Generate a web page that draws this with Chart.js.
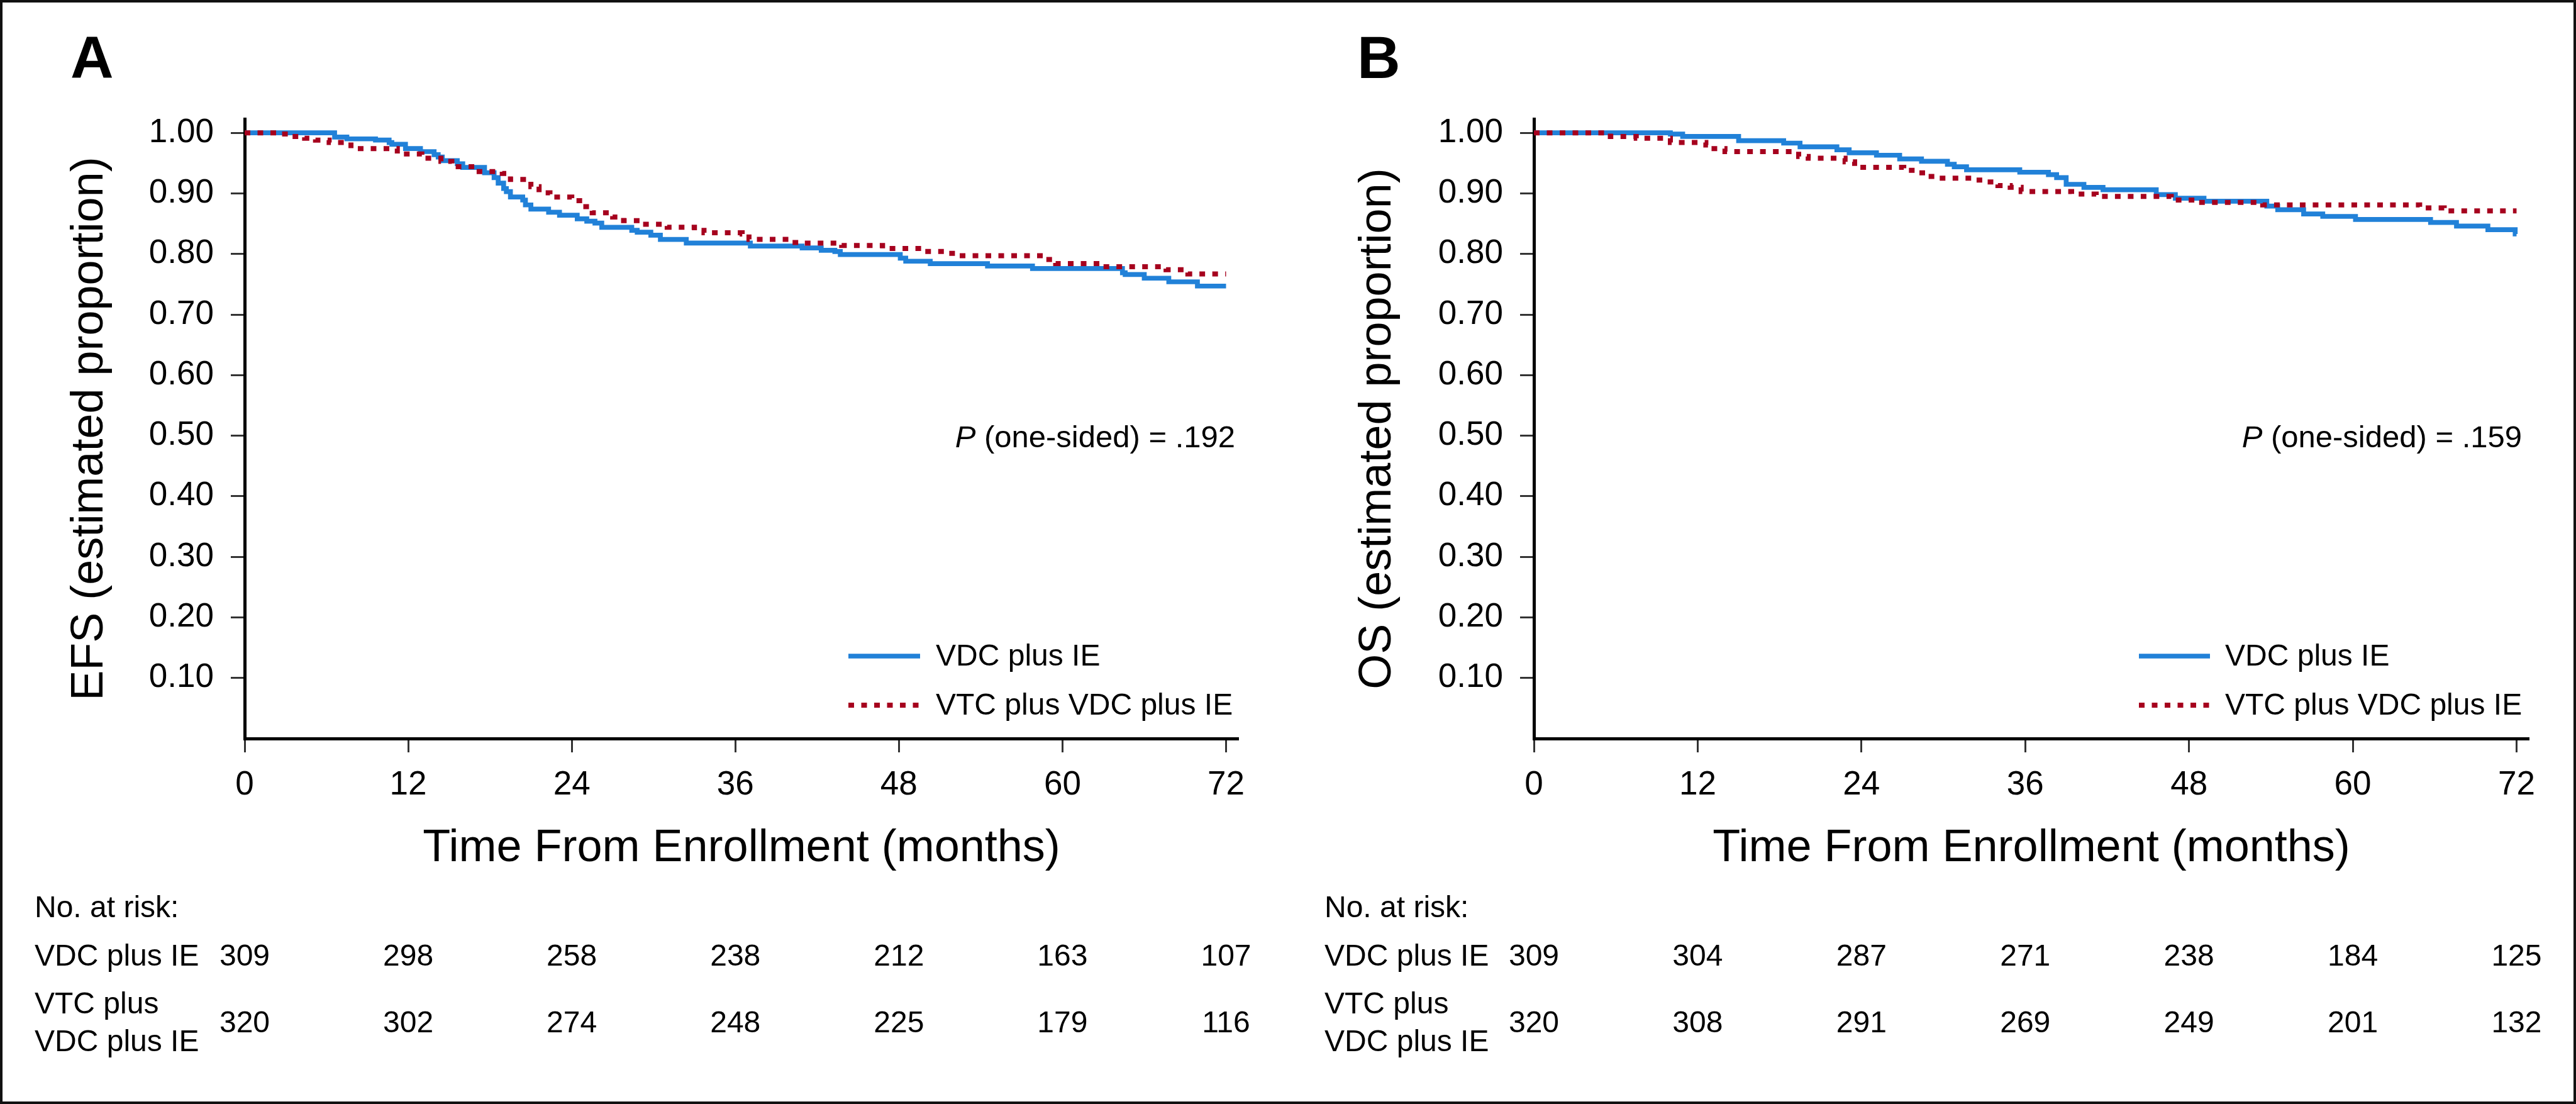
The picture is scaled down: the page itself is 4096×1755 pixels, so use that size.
<!DOCTYPE html>
<html><head><meta charset="utf-8">
<script src="https://cdn.jsdelivr.net/npm/chart.js@4.4.1/dist/chart.umd.min.js"></script>
<style>
html,body{margin:0;padding:0;background:#fff;}
#wrap{position:relative;width:4096px;height:1755px;overflow:hidden;background:#fff;}
.panel{position:absolute;top:0;width:2048px;height:1755px;}
#frame{position:absolute;left:0;top:0;width:4096px;height:1755px;box-sizing:border-box;border:4px solid #111;pointer-events:none;}
</style></head><body>
<div id="wrap">
<div class="panel" style="left:0"><canvas id="cA" width="2048" height="1755"></canvas></div>
<div class="panel" style="left:2048px"><canvas id="cB" width="2048" height="1755"></canvas></div>
<div id="frame"></div>
</div>
<script>
// ---------- data ----------
const xTicks = [0, 12, 24, 36, 48, 60, 72];
const yTicks = [0.1, 0.2, 0.3, 0.4, 0.5, 0.6, 0.7, 0.8, 0.9, 1.0];
const seriesLabels = ['VDC plus IE', 'VTC plus VDC plus IE'];

// Panel A: EFS
const efsVdcMonths = [0,6.6,7.5,9.6,10.6,10.8,11.8,12.9,13.9,14.2,14.5,15.6,16.0,17.6,18.3,18.6,19.0,19.2,19.5,20.4,20.6,21.0,22.3,23.1,24.4,25.1,25.7,26.2,28.4,28.8,29.8,30.5,32.4,37.1,40.9,42.3,43.3,43.7,48.1,48.5,50.3,54.5,57.8,64.4,64.6,66.0,67.8,69.9,72.0];
const efsVdcSurv   = [1.000,0.993,0.990,0.988,0.984,0.981,0.974,0.969,0.964,0.960,0.954,0.949,0.943,0.934,0.926,0.917,0.908,0.903,0.894,0.889,0.881,0.874,0.869,0.864,0.858,0.854,0.851,0.844,0.839,0.836,0.831,0.824,0.818,0.813,0.810,0.806,0.804,0.799,0.793,0.788,0.784,0.780,0.776,0.769,0.766,0.760,0.754,0.747,0.747];
const efsVtcMonths = [0,2.5,3.4,4.4,5.2,6.2,7.8,11.2,13.0,14.4,15.2,17.0,18.9,19.5,21.0,21.6,22.4,24.0,24.8,25.5,27.0,27.8,29.2,31.0,33.0,33.7,36.5,37.0,40.0,40.8,43.8,46.8,49.8,51.5,52.3,58.8,59.5,63.0,67.6,69.2,72.0];
const efsVtcSurv   = [1.000,0.998,0.994,0.991,0.988,0.984,0.974,0.965,0.958,0.953,0.944,0.936,0.933,0.923,0.911,0.901,0.894,0.888,0.878,0.868,0.861,0.855,0.849,0.844,0.839,0.835,0.833,0.824,0.819,0.818,0.814,0.809,0.804,0.801,0.797,0.791,0.784,0.779,0.774,0.767,0.767];
const efsRiskVdc = [309, 298, 258, 238, 212, 163, 107];
const efsRiskVtc = [320, 302, 274, 248, 225, 179, 116];

// Panel B: OS
const osVdcMonths = [0,10.0,10.9,15.0,18.3,19.5,22.2,23.1,25.1,26.8,28.4,30.3,30.8,31.7,35.6,37.7,38.3,39.0,40.3,41.7,45.6,47.0,49.1,53.7,54.5,56.4,57.8,60.2,65.7,67.6,69.9,71.9,72.0];
const osVdcSurv   = [1.000,0.998,0.994,0.987,0.983,0.977,0.972,0.967,0.963,0.957,0.953,0.948,0.944,0.939,0.935,0.931,0.926,0.915,0.910,0.906,0.898,0.892,0.887,0.879,0.873,0.866,0.862,0.857,0.852,0.846,0.840,0.833,0.833];
const osVtcMonths = [0,5.6,7.5,10.0,12.6,13.2,14.0,19.4,20.1,22.8,23.5,27.1,27.9,28.7,29.5,32.2,33.1,34.0,34.9,35.7,39.4,41.2,46.7,48.6,53.4,64.9,66.7,72.0];
const osVtcSurv   = [1.000,0.994,0.991,0.984,0.980,0.974,0.969,0.961,0.958,0.952,0.943,0.938,0.934,0.928,0.925,0.922,0.919,0.913,0.910,0.903,0.899,0.895,0.889,0.885,0.881,0.876,0.871,0.871];
const osRiskVdc = [309, 304, 287, 271, 238, 184, 125];
const osRiskVtc = [320, 308, 291, 269, 249, 201, 132];

// ---------- styling ----------
const FONT = "'Liberation Sans', Arial, Helvetica, sans-serif";
const BLUE = '#2181d8';
const RED = '#a6001e';
Chart.defaults.font.family = FONT;
Chart.defaults.color = '#000';

const annot = {
  id: 'annot',
  afterDraw(chart) {
    const o = chart.options.plugins.annot;
    const ctx = chart.ctx;
    const xs = chart.scales.x;
    ctx.save();
    ctx.fillStyle = '#000';
    ctx.textBaseline = 'alphabetic';
    // panel letter
    ctx.textAlign = 'left';
    ctx.font = 'bold 95px ' + FONT;
    ctx.fillText(o.letter, o.letterX, 124);
    // p value
    const rest = ' (one-sided) = ' + o.p;
    ctx.font = '49px ' + FONT;
    const wRest = ctx.measureText(rest).width;
    ctx.fillText(rest, o.pRight - wRest, 711);
    ctx.font = 'italic 49px ' + FONT;
    const wP = ctx.measureText('P').width;
    ctx.fillText('P', o.pRight - wRest - wP, 711);
    // legend
    const legendOrder = [0, 1];
    const rowsY = [1043, 1121];
    ctx.font = '48px ' + FONT;
    legendOrder.forEach((di, k) => {
      const ds = chart.data.datasets[di];
      ctx.save();
      ctx.strokeStyle = ds.borderColor;
      ctx.lineWidth = ds.borderWidth;
      ctx.setLineDash(ds.borderDash || []);
      ctx.lineCap = 'butt';
      ctx.beginPath();
      ctx.moveTo(o.legLine0, rowsY[k]);
      ctx.lineTo(o.legLine1, rowsY[k]);
      ctx.stroke();
      ctx.restore();
      ctx.fillText(ds.label, o.legText, rowsY[k] + 15);
    });
    // number at risk table
    ctx.font = '48px ' + FONT;
    ctx.textAlign = 'left';
    ctx.fillText('No. at risk:', o.riskX, 1458);
    ctx.fillText(seriesLabels[0], o.riskX, 1535);
    ctx.fillText('VTC plus', o.riskX, 1611);
    ctx.fillText('VDC plus IE', o.riskX, 1671);
    ctx.textAlign = 'center';
    xTicks.forEach((t, i) => {
      const px = xs.getPixelForValue(t);
      ctx.fillText(String(o.risk1[i]), px, 1535);
      ctx.fillText(String(o.risk2[i]), px, 1641);
    });
    ctx.restore();
  }
};

function toPts(ms, ss) { return ms.map((m, i) => ({x: m, y: ss[i]})); }

function makeChart(id, o) {
  const tickGrid = {drawOnChartArea: false, drawTicks: true, tickLength: 22, tickWidth: 3, tickColor: '#333', color: '#333'};
  const border = {display: true, color: '#000', width: 5};
  return new Chart(document.getElementById(id), {
    type: 'line',
    data: {
      datasets: [
        {label: seriesLabels[0], data: toPts(o.m1, o.s1), borderColor: BLUE, borderWidth: 7.7,
         stepped: 'before', pointRadius: 0, fill: false, order: 1, borderCapStyle: 'butt'},
        {label: seriesLabels[1], data: toPts(o.m2, o.s2), borderColor: RED, borderWidth: 8,
         borderDash: [9, 11.5], stepped: 'before', pointRadius: 0, fill: false, order: 0, borderCapStyle: 'butt'}
      ]
    },
    options: {
      responsive: false,
      animation: false,
      events: [],
      layout: {padding: {left: 0, top: 189, right: o.rightPad, bottom: 351}},
      scales: {
        x: {
          type: 'linear', min: 0, max: 72.9,
          afterBuildTicks: s => { s.ticks = xTicks.map(v => ({value: v})); },
          afterFit: s => { s.height = 230; },
          ticks: {font: {size: 53}, color: '#000', padding: 21, maxRotation: 0, autoSkip: false,
                  callback: v => String(v)},
          grid: tickGrid,
          border: border,
          title: {display: true, text: 'Time From Enrollment (months)', font: {size: 72}, color: '#000',
                  padding: {top: 0, bottom: 12}}
        },
        y: {
          type: 'linear', min: 0, max: 1.023,
          afterBuildTicks: s => { s.ticks = yTicks.map(v => ({value: v})); },
          afterFit: s => { s.width = o.left; },
          ticks: {font: {size: 53}, color: '#000', padding: 27, callback: v => Number(v).toFixed(2)},
          grid: tickGrid,
          border: border,
          title: {display: true, text: o.yTitle, font: {size: 72}, color: '#000',
                  padding: {top: 100, bottom: 0}}
        }
      },
      plugins: {
        legend: {display: false},
        tooltip: {enabled: false},
        annot: o
      }
    },
    plugins: [annot]
  });
}

makeChart('cA', {
  letter: 'A', letterX: 112, yTitle: 'EFS (estimated proportion)', p: '.192', pRight: 1964,
  left: 389, rightPad: 79, legLine0: 1349, legLine1: 1463, legText: 1488, riskX: 55,
  m1: efsVdcMonths, s1: efsVdcSurv, m2: efsVtcMonths, s2: efsVtcSurv,
  risk1: efsRiskVdc, risk2: efsRiskVtc
});
makeChart('cB', {
  letter: 'B', letterX: 110, yTitle: 'OS (estimated proportion)', p: '.159', pRight: 1962,
  left: 391, rightPad: 75, legLine0: 1353, legLine1: 1466, legText: 1490, riskX: 58,
  m1: osVdcMonths, s1: osVdcSurv, m2: osVtcMonths, s2: osVtcSurv,
  risk1: osRiskVdc, risk2: osRiskVtc
});
</script>
</body></html>
